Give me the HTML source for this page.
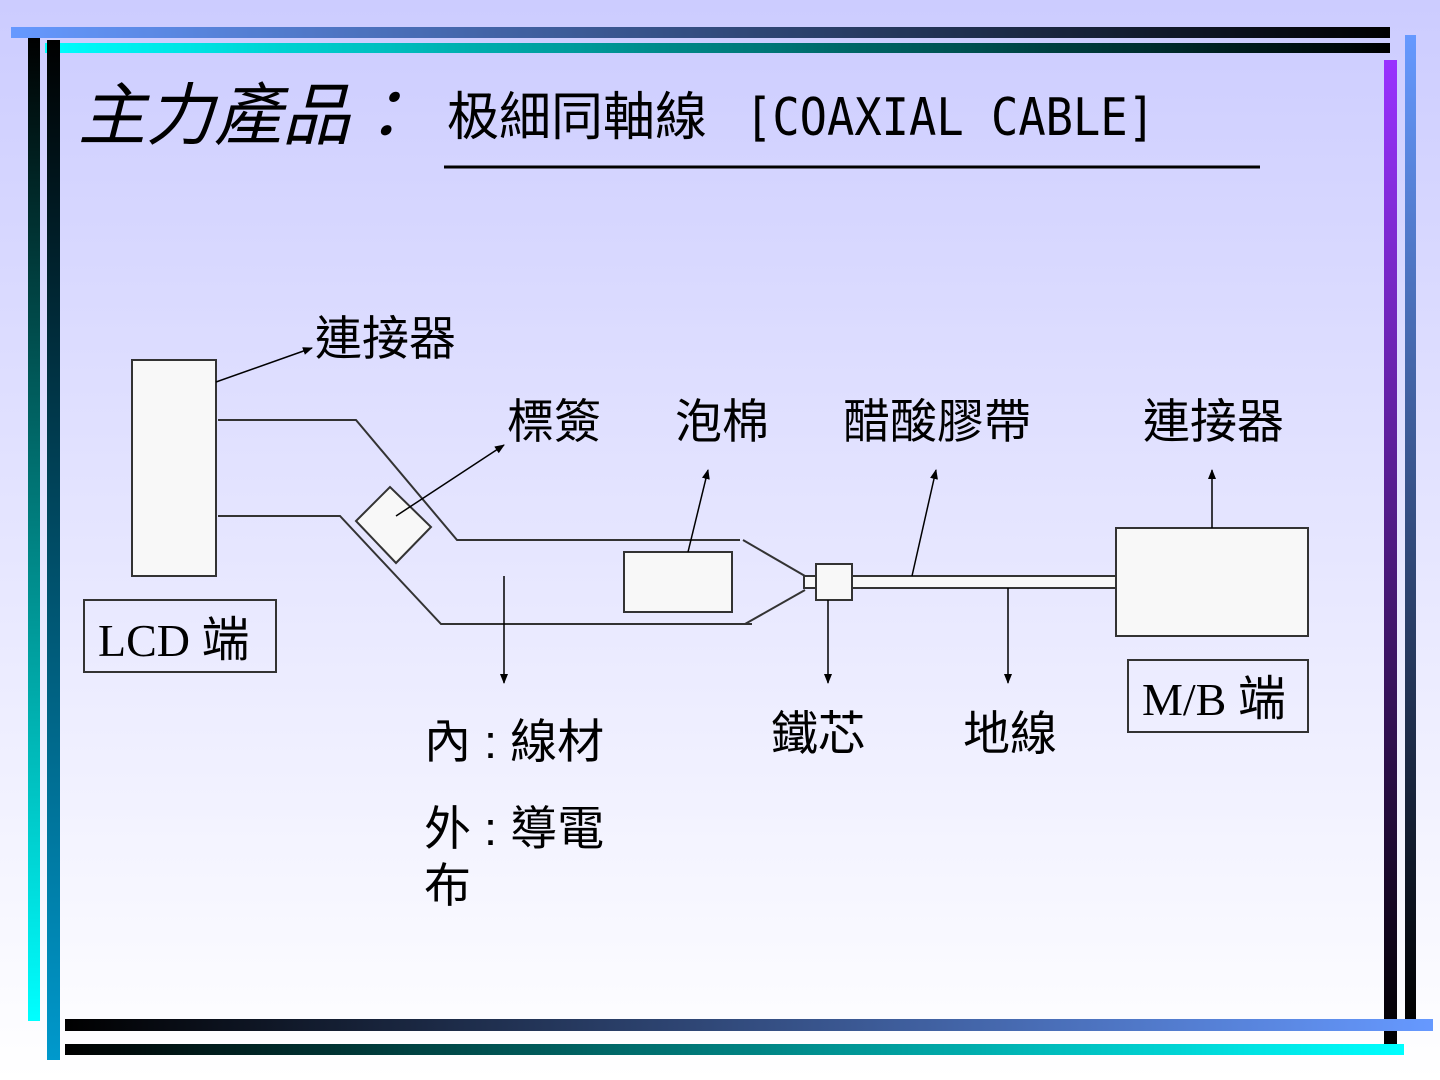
<!DOCTYPE html>
<html><head><meta charset="utf-8"><style>
html,body{margin:0;padding:0}
body{width:1440px;height:1080px;overflow:hidden;background:linear-gradient(#ccccff,#ffffff);position:relative;font-family:"Liberation Sans","Noto Sans CJK TC",sans-serif}
.b{position:absolute}
</style></head><body>
<div class="b" style="left:11px;top:27px;width:1379px;height:11px;background:linear-gradient(90deg,#6699ff,#000)"></div>
<div class="b" style="left:45px;top:43px;width:1345px;height:10px;background:linear-gradient(90deg,#00ffff,#000)"></div>
<div class="b" style="left:28px;top:38px;width:12px;height:983px;background:linear-gradient(#000,#00ffff)"></div>
<div class="b" style="left:47px;top:40px;width:13px;height:1020px;background:linear-gradient(#000,#0099cc)"></div>
<div class="b" style="left:1384px;top:60px;width:13px;height:984px;background:linear-gradient(#9933ff,#000)"></div>
<div class="b" style="left:1405px;top:35px;width:11px;height:985px;background:linear-gradient(#6699ff,#000)"></div>
<div class="b" style="left:65px;top:1019px;width:1368px;height:12px;background:linear-gradient(90deg,#000,#6699ff)"></div>
<div class="b" style="left:65px;top:1044px;width:1339px;height:11px;background:linear-gradient(90deg,#000,#00ffff)"></div>
<svg class="b" style="left:0;top:0" width="1440" height="1080" xmlns="http://www.w3.org/2000/svg">
<defs><marker id="a" markerWidth="10" markerHeight="8" refX="9" refY="4" orient="auto" markerUnits="userSpaceOnUse"><path d="M0,0 L10,4 L0,8z" fill="#000"/></marker></defs>
<text x="78" y="139" font-size="68" font-style="italic" font-family="Noto Sans CJK TC,sans-serif">主力產品：</text>
<text x="447" y="135" font-size="52" font-family="Noto Sans CJK TC,sans-serif">极細同軸線</text>
<text x="745" y="135" font-size="52" font-family="DejaVu Sans Mono,monospace" textLength="410" lengthAdjust="spacingAndGlyphs">[COAXIAL CABLE]</text>
<line x1="444" y1="167" x2="1260" y2="167" stroke="#000" stroke-width="3"/>
<g stroke="#333" stroke-width="2" fill="none">
<rect x="132" y="360" width="84" height="216" fill="#f8f8f8"/>
<polyline points="218,420 356,420 457,540 740,540"/>
<polyline points="218,516 340,516 441,624 752,624"/>
<polygon points="356,521 390,487 431,527 396,563" fill="#f8f8f8"/>
<rect x="624" y="552" width="108" height="60" fill="#f8f8f8"/>
<line x1="743" y1="540" x2="805" y2="576"/><line x1="745" y1="624" x2="805" y2="590"/>
<rect x="804" y="576" width="12" height="12" fill="#f8f8f8"/>
<rect x="852" y="576" width="264" height="12" fill="#f8f8f8"/>
<rect x="816" y="564" width="36" height="36" fill="#f8f8f8"/>
<rect x="1116" y="528" width="192" height="108" fill="#f8f8f8"/>
<rect x="84" y="600" width="192" height="72"/>
<rect x="1128" y="660" width="180" height="72"/>
</g>
<g stroke="#000" stroke-width="1.5" marker-end="url(#a)">
<line x1="216" y1="382" x2="312" y2="348"/>
<line x1="396" y1="516" x2="504" y2="445"/>
<line x1="688" y1="552" x2="708" y2="470"/>
<line x1="912" y1="576" x2="936" y2="470"/>
<line x1="1212" y1="528" x2="1212" y2="470"/>
<line x1="504" y1="576" x2="504" y2="683"/>
<line x1="828" y1="600" x2="828" y2="683"/>
<line x1="1008" y1="588" x2="1008" y2="683"/>
</g>
<g font-size="47" font-family="Liberation Sans,Noto Sans CJK TC,sans-serif">
<text x="315" y="355">連接器</text>
<text x="507" y="438">標簽</text>
<text x="675" y="438">泡棉</text>
<text x="843" y="438">醋酸膠帶</text>
<text x="1143" y="438">連接器</text>
<text x="424" y="758">內 : 線材</text>
<text x="424" y="845">外 : 導電</text>
<text x="424" y="902">布</text>
<text x="771" y="750">鐵芯</text>
<text x="963" y="750">地線</text>
</g>
<g font-size="46" font-family="Liberation Serif,Noto Sans CJK TC,serif">
<text x="98" y="656">LCD <tspan font-family="Noto Sans CJK TC,sans-serif" font-size="48">端</tspan></text>
<text x="1142" y="715">M/B <tspan font-family="Noto Sans CJK TC,sans-serif" font-size="48">端</tspan></text>
</g>
</svg>
</body></html>
